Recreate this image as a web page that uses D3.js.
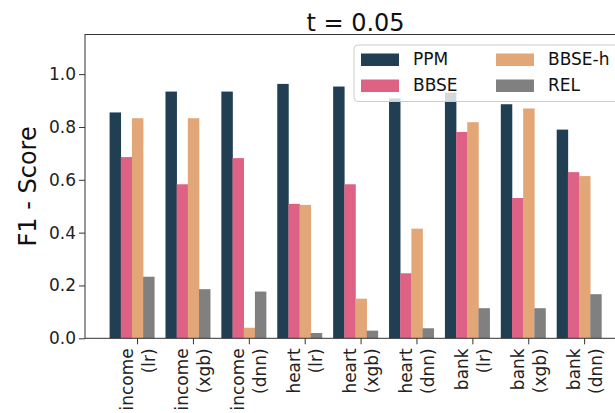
<!DOCTYPE html>
<html>
<head>
<meta charset="utf-8">
<script src="https://cdn.jsdelivr.net/npm/d3@7"></script>
<style>
  html, body { margin: 0; padding: 0; background: #fff; }
  svg { display: block; font-family: "DejaVu Sans", sans-serif; }
</style>
</head>
<body>
<svg id="chart" width="615" height="413"></svg>
<script>
const categories = [
  ["income", "(lr)"], ["income", "(xgb)"], ["income", "(dnn)"],
  ["heart", "(lr)"], ["heart", "(xgb)"], ["heart", "(dnn)"],
  ["bank", "(lr)"], ["bank", "(xgb)"], ["bank", "(dnn)"]
];
const seriesNames = ["PPM", "BBSE", "BBSE-h", "REL"];
const ppm   = [0.855, 0.934, 0.934, 0.963, 0.953, 0.908, 0.930, 0.886, 0.790];
const bbse  = [0.686, 0.583, 0.682, 0.509, 0.583, 0.246, 0.781, 0.531, 0.629];
const bbseh = [0.833, 0.833, 0.040, 0.505, 0.150, 0.415, 0.818, 0.870, 0.614];
const rel   = [0.233, 0.186, 0.177, 0.020, 0.029, 0.038, 0.114, 0.114, 0.167];
const yTicks = [0.0, 0.2, 0.4, 0.6, 0.8, 1.0];
const colors = ["#213f53", "#dd6285", "#e3a676", "#808080"];
const title = "t = 0.05";
const yLabel = "F1 - Score";

const seriesValues = [ppm, bbse, bbseh, rel];
const barW = 0.205;
const offsets = [-0.5, -0.3, -0.1, 0.1]; // left edges relative to tick

const svg = d3.select("#chart");
const mLeft = 85, mRight = 626, mTop = 34.5, mBottom = 338.3;

const x = d3.scaleLinear().domain([-0.94, 8.74]).range([mLeft, mRight]);
const y = d3.scaleLinear().domain([0, 1.15]).range([mBottom, mTop]);

// bars
seriesValues.forEach((vals, s) => {
  svg.append("g").selectAll("rect").data(vals).join("rect")
    .attr("x", (d, i) => x(i + offsets[s]))
    .attr("width", x(barW) - x(0))
    .attr("y", d => y(d))
    .attr("height", d => y(0) - y(d))
    .attr("fill", colors[s]);
});

// y axis
const yAxis = d3.axisLeft(y).tickValues(yTicks).tickFormat(d3.format(".1f"))
  .tickSize(6).tickPadding(3);
const gy = svg.append("g").attr("transform", `translate(${mLeft},0)`).call(yAxis);
gy.select(".domain").remove();
gy.selectAll(".tick line").attr("stroke", "#333");
gy.selectAll(".tick text").attr("font-size", "17px").attr("fill", "#222")
  .attr("font-family", "DejaVu Sans");

// x axis ticks
const gx = svg.append("g").attr("transform", `translate(0,${mBottom})`);
categories.forEach((c, i) => {
  const cx = x(i);
  gx.append("line").attr("x1", cx).attr("x2", cx).attr("y1", 0).attr("y2", 6)
    .attr("stroke", "#333");
  const t = gx.append("text")
    .attr("transform", `translate(${cx},10) rotate(-90)`)
    .attr("font-size", "17px").attr("fill", "#222")
    .attr("text-anchor", "end");
  t.append("tspan").attr("x", 0).attr("y", -5).text(c[0]);
  t.append("tspan").attr("x", 0).attr("y", 17).text(c[1]);
});

// frame
svg.append("rect").attr("x", mLeft).attr("y", mTop)
  .attr("width", mRight - mLeft).attr("height", mBottom - mTop)
  .attr("fill", "none").attr("stroke", "#333").attr("stroke-width", 1);

// title
svg.append("text").attr("x", (mLeft + mRight) / 2).attr("y", 31)
  .attr("text-anchor", "middle").attr("font-size", "24px").attr("fill", "#111")
  .text(title);

// y label
svg.append("text")
  .attr("transform", `translate(36,${(mTop + mBottom) / 2}) rotate(-90)`)
  .attr("text-anchor", "middle").attr("font-size", "24px").attr("fill", "#111")
  .text(yLabel);

// legend
const lg = svg.append("g");
lg.append("rect").attr("x", 354).attr("y", 45).attr("width", 300).attr("height", 56.5)
  .attr("rx", 4).attr("fill", "#fff").attr("fill-opacity", 0.8)
  .attr("stroke", "#ccc").attr("stroke-width", 1);
const legendPos = [[361, 53.5], [361, 79.5], [496, 53.5], [496, 79.5]];
seriesNames.forEach((n, s) => {
  const [lx, ly] = legendPos[s];
  lg.append("rect").attr("x", lx).attr("y", ly).attr("width", 38).attr("height", 12.5)
    .attr("fill", colors[s]);
  lg.append("text").attr("x", lx + 52).attr("y", ly + 11.5)
    .attr("font-size", "17px").attr("fill", "#111").text(n);
});
</script>
</body>
</html>
